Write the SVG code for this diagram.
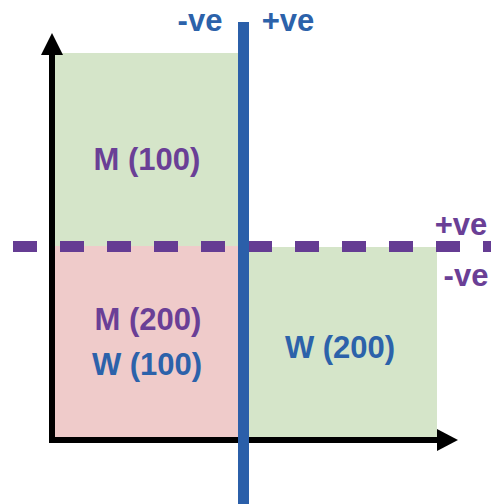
<svg xmlns="http://www.w3.org/2000/svg" width="491" height="504" viewBox="0 0 491 504">
  <style>
    .lbl { font-family: "Liberation Sans", Arial, sans-serif; font-weight: bold; font-size: 31px; text-anchor: middle; }
    .purple { fill: #6a3f96; }
    .blue { fill: #2c62aa; }
  </style>
  <rect width="491" height="504" fill="#ffffff"/>

  <!-- quadrant regions -->
  <g id="region-m100">
    <rect x="55" y="53" width="183" height="193" fill="#d5e5c9"/>
    <text class="lbl purple" x="147" y="170">M (100)</text>
  </g>
  <g id="region-m200-w100">
    <rect x="55" y="246" width="183" height="192" fill="#efcbca"/>
    <text class="lbl purple" x="148" y="330">M (200)</text>
    <text class="lbl blue" x="147" y="375">W (100)</text>
  </g>
  <g id="region-w200">
    <rect x="248" y="247" width="189" height="191" fill="#d5e5c9"/>
    <text class="lbl blue" x="340" y="358">W (200)</text>
  </g>

  <!-- axes and dividing lines -->
  <g id="connectors">
    <!-- vertical axis -->
    <line x1="52" y1="443" x2="52" y2="50" stroke="#000" stroke-width="6"/>
    <polygon points="41,55 52,33 63,55" fill="#000"/>
    <!-- horizontal axis -->
    <line x1="49" y1="440" x2="440" y2="440" stroke="#000" stroke-width="6"/>
    <polygon points="437,429 458,440 437,451" fill="#000"/>
    <!-- dashed horizontal divider -->
    <line x1="13" y1="246.5" x2="491" y2="246.5" stroke="#653c93" stroke-width="11" stroke-dasharray="24 23"/>
    <!-- solid vertical divider -->
    <line x1="243.5" y1="22" x2="243.5" y2="504" stroke="#2b5fa9" stroke-width="11"/>
  </g>

  <!-- sign labels -->
  <g id="sign-labels">
    <text class="lbl blue" x="200" y="31">-ve</text>
    <text class="lbl blue" x="288" y="31">+ve</text>
    <text class="lbl purple" x="461" y="235">+ve</text>
    <text class="lbl purple" x="466" y="286">-ve</text>
  </g>
</svg>
